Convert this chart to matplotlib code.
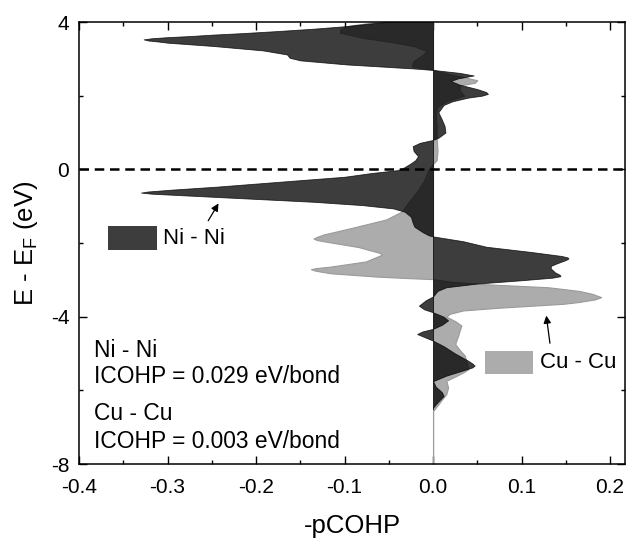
import matplotlib
matplotlib.use('Agg')
import matplotlib.pyplot as plt
from matplotlib.patches import Rectangle
from matplotlib.ticker import MultipleLocator, FormatStrFormatter

plt.rcParams['font.family'] = ['Liberation Sans', 'DejaVu Sans']
plt.rcParams['mathtext.fontset'] = 'custom'
plt.rcParams['mathtext.rm'] = 'Liberation Sans'
plt.rcParams['axes.unicode_minus'] = False

# Ni - Ni  -pCOHP
ni_e = [4.15, 4.0, 3.95, 3.89, 3.82, 3.76, 3.70, 3.66, 3.62, 3.59, 3.56, 3.53, 3.50,
        3.47, 3.44, 3.35, 3.23, 3.12, 3.03, 2.96, 2.85, 2.74, 2.70, 2.62, 2.55, 2.47,
        2.40, 2.30, 2.18, 2.10, 2.05, 2.0, 1.95, 1.85, 1.75, 1.55, 1.35, 1.18, 1.0,
        0.86, 0.80, 0.72, 0.63, 0.50, 0.36, 0.25, 0.15, 0.05, -0.02, -0.1, -0.2,
        -0.33, -0.47, -0.55, -0.6, -0.63, -0.66, -0.7, -0.79, -0.88, -0.97, -1.06,
        -1.15, -1.29, -1.45, -1.56, -1.7, -1.79, -1.82, -1.95, -2.1, -2.24, -2.35,
        -2.39, -2.42, -2.46, -2.55, -2.62, -2.69, -2.8, -2.86, -2.9, -2.94, -2.97,
        -3.01, -3.1, -3.2, -3.3, -3.45, -3.55, -3.7, -3.8, -3.88, -4.0, -4.1, -4.22,
        -4.33, -4.4, -4.47, -4.55, -4.65, -4.8, -5.0, -5.2, -5.28, -5.33, -5.38,
        -5.45, -5.6, -5.75, -5.9, -6.05, -6.15, -6.3, -6.47, -6.5]
ni_val = [-0.04, -0.055, -0.075, -0.098, -0.135, -0.173, -0.215, -0.248, -0.275,
          -0.30, -0.318, -0.327, -0.322, -0.31, -0.30, -0.248, -0.192, -0.165, -0.162,
          -0.15, -0.098, -0.022, 0.0, 0.03, 0.046, 0.028, 0.02, 0.03, 0.05, 0.06,
          0.062, 0.055, 0.04, 0.022, 0.012, 0.006, 0.01, 0.013, 0.014, 0.006, 0.0,
          -0.015, -0.023, -0.022, -0.017, -0.02, -0.026, -0.033, -0.04, -0.07, -0.10,
          -0.17, -0.245, -0.295, -0.322, -0.33, -0.318, -0.285, -0.21, -0.135, -0.08,
          -0.045, -0.032, -0.025, -0.023, -0.021, -0.012, -0.005, 0.0, 0.034, 0.06,
          0.11, 0.145, 0.152, 0.153, 0.15, 0.14, 0.133, 0.133, 0.138, 0.143, 0.144,
          0.135, 0.12, 0.10, 0.05, 0.015, 0.005, 0.0, -0.008, -0.016, -0.01, 0.0,
          0.012, 0.017, 0.01, 0.0, -0.012, -0.018, -0.01, 0.0, 0.012, 0.025, 0.04,
          0.045, 0.047, 0.044, 0.035, 0.015, 0.0, 0.003, 0.01, 0.012, 0.006, 0.0, 0.0]

# Cu - Cu  -pCOHP
cu_e = [4.15, 4.0, 3.9, 3.8, 3.71, 3.57, 3.45, 3.35, 3.21, 3.1, 2.94, 2.8, 2.71, 2.6,
        2.5, 2.42, 2.35, 2.28, 2.15, 2.0, 1.85, 1.7, 1.5, 1.2, 0.9, 0.5, 0.25, 0.15,
        0.0, -0.3, -0.6, -0.9, -1.14, -1.36, -1.59, -1.77, -1.84, -1.88, -1.92, -1.95,
        -2.11, -2.27, -2.32, -2.5, -2.64, -2.68, -2.71, -2.75, -2.82, -2.91, -2.95,
        -2.98, -3.05, -3.12, -3.2, -3.3, -3.38, -3.47, -3.53, -3.6, -3.65, -3.76,
        -3.83, -3.92, -4.0, -4.12, -4.24, -4.38, -4.47, -4.74, -4.9, -5.06, -5.25,
        -5.42, -5.5, -5.6, -5.74, -5.92, -6.1, -6.25, -6.38, -6.56, -8.0]
cu_val = [-0.045, -0.065, -0.095, -0.105, -0.105, -0.079, -0.045, -0.022, -0.007,
          -0.012, -0.022, -0.024, 0.0, 0.015, 0.035, 0.05, 0.047, 0.03, 0.03, 0.035,
          0.015, 0.005, 0.003, 0.004, 0.004, 0.005, 0.004, 0.0, -0.005, -0.01, -0.018,
          -0.028, -0.035, -0.053, -0.092, -0.124, -0.132, -0.135, -0.131, -0.124,
          -0.084, -0.06, -0.058, -0.076, -0.116, -0.132, -0.138, -0.133, -0.116,
          -0.064, -0.03, 0.0, 0.02, 0.06, 0.13, 0.165, 0.18, 0.19, 0.183, 0.165, 0.147,
          0.072, 0.034, 0.019, 0.015, 0.025, 0.032, 0.03, 0.029, 0.025, 0.03, 0.036,
          0.038, 0.04, 0.035, 0.027, 0.015, 0.017, 0.015, 0.01, 0.006, 0.0, 0.0]

ni_color = 'black'
ni_alpha = 0.76
cu_color = '#acacac'

fig = plt.figure(figsize=(6.27, 5.38), dpi=100)
ax = fig.add_axes([0.126, 0.1375, 0.871, 0.8215])

ax.fill_betweenx(cu_e, 0, cu_val, facecolor=cu_color, edgecolor='#9a9a9a', lw=0.8, zorder=2)
ax.fill_betweenx(ni_e, 0, ni_val, facecolor=ni_color, edgecolor=ni_color, alpha=ni_alpha,
                 lw=0.6, zorder=3)
ax.axhline(0, color='black', lw=1.8, dashes=(3.8, 2.3), zorder=4)

ax.set_xlim(-0.4, 0.217)
ax.set_ylim(-8, 4)
ax.xaxis.set_major_locator(MultipleLocator(0.1))
ax.xaxis.set_minor_locator(MultipleLocator(0.05))
ax.yaxis.set_major_locator(MultipleLocator(4))
ax.yaxis.set_minor_locator(MultipleLocator(2))
ax.xaxis.set_major_formatter(FormatStrFormatter('%.1f'))
ax.tick_params(which='both', direction='in', top=True, right=True, width=1.0)
ax.tick_params(which='major', length=5.5, labelsize=15)
ax.tick_params(which='minor', length=3)
ax.tick_params(axis='x', which='major', pad=10)
ax.tick_params(axis='y', which='major', pad=7)
for s in ax.spines.values():
    s.set_linewidth(1.1)

ax.set_xlabel('-pCOHP', fontsize=18.5, labelpad=12)
ax.set_ylabel('E - E$_\\mathrm{F}$ (eV)', fontsize=18.5, labelpad=8)

# labels with colour swatches
ax.add_patch(Rectangle((0.053, 0.484), 0.09, 0.054, transform=ax.transAxes,
                       facecolor=ni_color, alpha=ni_alpha, edgecolor='none', zorder=5))
ax.text(0.154, 0.511, 'Ni - Ni', transform=ax.transAxes, fontsize=16, va='center', zorder=5)
ax.add_patch(Rectangle((0.744, 0.204), 0.088, 0.052, transform=ax.transAxes,
                       facecolor=cu_color, edgecolor='none', zorder=5))
ax.text(0.844, 0.229, 'Cu - Cu', transform=ax.transAxes, fontsize=16, va='center', zorder=5)

ax.annotate('', xy=(0.258, 0.595), xytext=(0.234, 0.545), xycoords='axes fraction',
            arrowprops=dict(arrowstyle='-|>', color='black', lw=0.9, mutation_scale=11))
ax.annotate('', xy=(0.855, 0.342), xytext=(0.863, 0.267), xycoords='axes fraction',
            arrowprops=dict(arrowstyle='-|>', color='black', lw=0.9, mutation_scale=11))

info = ['Ni - Ni', 'ICOHP = 0.029 eV/bond', 'Cu - Cu', 'ICOHP = 0.003 eV/bond']
info_y = [0.256, 0.197, 0.115, 0.052]
for t, yy in zip(info, info_y):
    ax.text(0.027, yy, t, transform=ax.transAxes, fontsize=16.4, va='center', zorder=5)

fig.savefig('out.png', dpi=100)
